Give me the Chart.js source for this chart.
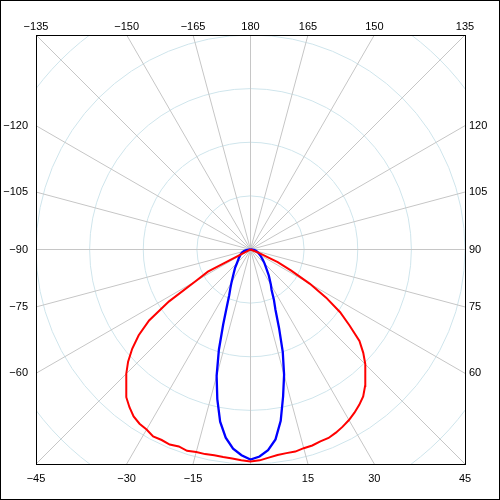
<!DOCTYPE html>
<html>
<head>
<meta charset="utf-8">
<script src="https://cdn.jsdelivr.net/npm/chart.js@4/dist/chart.umd.min.js"></script>
<style>
html, body { margin: 0; padding: 0; background: #fff; }
canvas { display: block; }
</style>
</head>
<body>
<canvas id="chart" width="500" height="500"></canvas>
<script>
// polar intensity curves, angle in degrees (0 = straight down, negative to the left),
// value in % of the frame half-size
const redAngles = [-90, -67.5, -65, -62.5, -60, -57.5, -55, -52.5, -50, -47.5, -45, -42.5, -40, -37.5, -35, -32.5, -30, -27.5, -25, -22.5, -20, -17.5, -15, -12.5, -10, -7.5, -5, -2.5,
    0, 2.5, 5, 7.5, 10, 12.5, 15, 17.5, 20, 22.5, 25, 27.5, 30, 32.5, 35, 37.5, 40, 42.5, 45, 47.5, 50, 52.5, 55, 57.5, 60, 62.5, 65, 67.5, 70, 90];
const redValues = [0, 0, 0.9, 22.4, 29.6, 45.0, 57.7, 65.7, 72.0, 77.4, 81.9, 85.9, 89.9, 92.7, 95.0, 96.3, 96.9, 98.3, 98.0, 98.4, 97.7, 98.4, 97.7, 97.7, 97.4, 97.6, 97.8, 98.3,
    98.8, 98.4, 97.4, 96.6, 96.4, 96.5, 95.9, 95.8, 95.2, 95.1, 94.2, 93.1, 91.8, 90.2, 88.4, 86.3, 83.1, 79.4, 75.5, 71.3, 66.3, 58.2, 51.0, 41.8, 32.0, 21.4, 14.0, 4.2, 0, 0];

const blueAngles = [-90, -85, -80, -75, -70, -65, -60, -55, -50, -45, -40, -35, -32.5, -30, -27.5, -25, -22.5, -20, -17.5, -15, -12.5, -10, -7.5, -5, -2.5,
    0, 2.5, 5, 7.5, 10, 12.5, 15, 17.5, 20, 22.5, 25, 27.5, 30, 35, 40, 45, 50, 55, 60, 65, 70, 75, 80, 85, 90];
const blueValues = [0, 1.4, 2.3, 3.3, 4.2, 5.0, 5.6, 6.5, 7.5, 8.9, 11.2, 13.7, 15.4, 17.7, 20.3, 23.5, 28.8, 37.3, 49.0, 61.0, 71.5, 81.5, 88.5, 93.2, 96.0,
    97.9, 96.6, 93.9, 89.3, 81.1, 70.2, 60.5, 50.0, 38.9, 30.4, 25.8, 21.3, 19.0, 14.9, 11.4, 9.3, 7.5, 6.1, 5.1, 4.2, 3.5, 2.8, 1.9, 0.9, 0];

// angle labels where the 15 degree rays hit each side of the frame
const topLabels = [-135, -150, -165, 180, 165, 150, 135];
const leftLabels = [-120, -105, -90, -75, -60];
const rightLabels = [120, 105, 90, 75, 60];
const bottomLabels = [-45, -30, -15, 15, 30, 45];
const ringValues = [25, 50, 75, 100, 125];
const R = 100;

const deg = d => d * Math.PI / 180;
const fmt = v => String(v).replace('-', '\u2212');

function toXY(angles, values) {
    return angles.map((a, i) => ({x: values[i] * Math.sin(deg(a)), y: -values[i] * Math.cos(deg(a))}));
}

const polarGrid = {
    id: 'polarGrid',
    beforeDraw(chart) {
        const {ctx, chartArea: a, scales: {x, y}} = chart;
        const cx = x.getPixelForValue(0), cy = y.getPixelForValue(0);
        ctx.save();
        ctx.beginPath();
        ctx.rect(a.left, a.top, a.right - a.left, a.bottom - a.top);
        ctx.clip();
        ctx.lineWidth = 1;
        ctx.strokeStyle = '#cfe5ec';
        for (const v of ringValues) {
            ctx.beginPath();
            ctx.arc(cx, cy, x.getPixelForValue(v) - cx, 0, Math.PI * 2);
            ctx.stroke();
        }
        ctx.strokeStyle = '#c6c6c6';
        for (let d = 0; d < 360; d += 15) {
            ctx.beginPath();
            ctx.moveTo(cx, cy);
            ctx.lineTo(x.getPixelForValue(3 * R * Math.sin(deg(d))), y.getPixelForValue(-3 * R * Math.cos(deg(d))));
            ctx.stroke();
        }
        ctx.restore();
    },
    afterDraw(chart) {
        const ctx = chart.ctx;
        ctx.save();
        ctx.strokeStyle = '#000';
        ctx.lineWidth = 1;
        ctx.strokeRect(0.5, 0.5, chart.width - 1, chart.height - 1);
        ctx.restore();
    }
};

function axis(position, labels, valueOf, pad, size) {
    return {
        type: 'linear',
        position: position,
        min: -R,
        max: R,
        grid: {display: false, drawTicks: false},
        border: {display: true, color: '#000', width: 1},
        ticks: {
            autoSkip: false,
            maxRotation: 0,
            padding: pad,
            color: '#000',
            font: {family: "'Liberation Sans', Arial, sans-serif", size: 11},
            callback: (v, i) => fmt(labels[i])
        },
        afterBuildTicks: s => { s.ticks = labels.map(l => ({value: valueOf(deg(l))})); },
        afterFit: s => { if (s.isHorizontal()) s.height = size; else s.width = size; }
    };
}

new Chart(document.getElementById("chart").getContext("2d"), {
    type: "scatter",
    data: {
        datasets: [
            {
                label: "C90-C270",
                data: toXY(redAngles, redValues),
                showLine: true,
                borderColor: "#ff0000",
                backgroundColor: "#ff0000",
                borderWidth: 2,
                pointRadius: 0
            },
            {
                label: "C0-C180",
                data: toXY(blueAngles, blueValues),
                showLine: true,
                borderColor: "#0000ff",
                backgroundColor: "#0000ff",
                borderWidth: 2.3,
                pointRadius: 0
            }
        ]
    },
    options: {
        responsive: false,
        animation: false,
        layout: {padding: 0},
        plugins: {legend: {display: false}, tooltip: {enabled: false}},
        scales: {
            x: axis('bottom', bottomLabels, t => R * Math.tan(t), 8, 36),
            x2: axis('top', topLabels, t => -R * Math.tan(t), 1, 35),
            y: axis('left', leftLabels, t => R / Math.tan(t), 8, 36),
            y2: axis('right', rightLabels, t => -R / Math.tan(t), 4, 35)
        }
    },
    plugins: [polarGrid]
});
</script>
</body>
</html>
